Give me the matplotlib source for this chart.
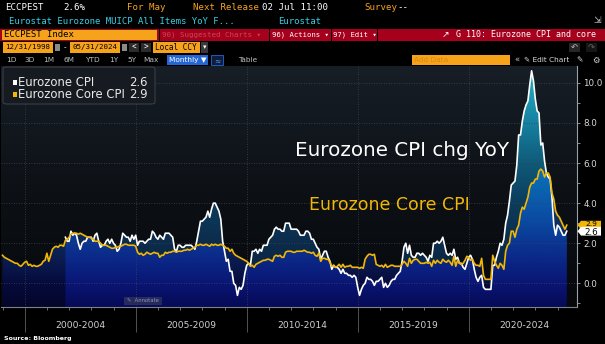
import numpy as np
import matplotlib
matplotlib.use("Agg")
import matplotlib.pyplot as plt
from matplotlib.path import Path
from matplotlib.colors import LinearSegmentedColormap
from matplotlib.patches import Rectangle, FancyBboxPatch, Polygon
import matplotlib.transforms as mtransforms

# ---------------- data ----------------
core_start = (1998, 12)   # monthly, end-of-month
core = [1.4,
        1.3, 1.25, 1.2, 1.15, 1.1, 1.05, 1.0, 1.0, 0.9, 0.85, 0.95, 1.05,
        1.1, 0.9, 0.95, 0.85, 0.9, 0.85, 0.85, 0.9, 0.95, 1.1, 1.15, 1.5,
        1.1, 1.4, 1.7, 1.8, 1.85, 1.8, 1.9, 1.9, 1.85, 2.15, 2.2, 2.3,
        2.45, 2.5, 2.5, 2.5, 2.45, 2.5, 2.45, 2.4, 2.35, 2.3, 2.3, 2.25,
        2.2, 2.1, 2.1, 2.1, 2.0, 1.9, 1.9, 1.9, 1.85, 1.8, 1.75, 1.75,
        1.8, 1.8, 1.85, 1.85, 1.9, 1.95, 1.95, 1.9, 1.9, 1.9, 1.9, 1.85,
        1.55, 1.45, 1.5, 1.4, 1.45, 1.55, 1.5, 1.45, 1.5, 1.55, 1.5, 1.5,
        1.3, 1.4, 1.4, 1.55, 1.5, 1.55, 1.55, 1.6, 1.6, 1.55, 1.6, 1.6,
        1.6, 1.65, 1.65, 1.7, 1.65, 1.7, 1.75, 1.8, 1.9, 1.9, 1.95, 1.9,
        1.9, 1.95, 1.9, 1.85, 1.95, 1.9, 1.95, 1.9, 1.9, 1.95, 1.9, 1.85,
        1.75, 1.75, 1.6, 1.7, 1.5, 1.4, 1.35, 1.3, 1.25, 1.2, 1.15, 1.1,
        1.0, 0.85, 0.9, 0.8, 0.95, 1.0, 1.05, 1.1, 1.15, 1.15, 1.2, 1.2,
        1.15, 1.1, 1.35, 1.4, 1.35, 1.4, 1.3, 1.3, 1.55, 1.6, 1.6, 1.6,
        1.55, 1.55, 1.6, 1.6, 1.6, 1.6, 1.65, 1.6, 1.55, 1.55, 1.5, 1.55,
        1.4, 1.35, 1.5, 1.1, 1.25, 1.25, 1.2, 1.2, 1.05, 0.85, 0.9, 0.8,
        0.85, 0.95, 0.8, 0.95, 0.8, 0.85, 0.85, 0.9, 0.8, 0.8, 0.8, 0.8,
        0.75, 0.8, 0.75, 1.2, 1.35, 1.45, 1.45, 1.4, 1.45, 0.95, 0.9, 0.85,
        0.9, 0.8, 0.95, 0.8, 0.85, 0.9, 0.9, 0.85, 0.85, 0.85, 0.85, 0.95,
        1.1, 1.0, 0.85, 1.25, 1.0, 1.15, 1.2, 1.2, 1.1, 1.0, 1.0, 1.0,
        1.05, 1.0, 1.05, 0.85, 1.15, 1.0, 1.15, 1.05, 1.0, 1.2, 1.1, 1.05,
        1.15, 1.05, 0.9, 1.35, 0.85, 1.15, 1.0, 0.95, 1.0, 1.15, 1.35, 1.3,
        1.15, 1.2, 1.0, 0.9, 0.9, 0.85, 1.25, 0.4, 0.2, 0.2, 0.2, 0.2,
        1.4, 1.1, 0.9, 0.75, 1.0, 0.9, 0.7, 1.6, 1.9, 2.0, 2.6, 2.6,
        2.3, 2.7, 2.9, 3.5, 3.8, 3.7, 4.0, 4.3, 4.8, 5.0, 5.0, 5.2,
        5.2, 5.6, 5.7, 5.6, 5.3, 5.5, 5.5, 5.3, 4.5, 4.2, 3.6, 3.4,
        3.3, 3.1, 2.9, 2.7, 2.9]

cpi_start = (2001, 10)
cpi = [2.3, 2.1, 2.1,
       2.6, 2.4, 2.5, 2.4, 2.0, 1.7, 2.0, 2.1, 2.1, 2.3, 2.3, 2.3,
       2.1, 2.4, 2.5, 2.1, 1.8, 1.9, 1.9, 2.1, 2.2, 2.0, 2.2, 2.0,
       1.9, 1.6, 1.7, 2.0, 2.5, 2.4, 2.3, 2.3, 2.1, 2.4, 2.2, 2.4,
       1.9, 2.1, 2.1, 2.1, 2.0, 2.1, 2.2, 2.2, 2.6, 2.5, 2.3, 2.2,
       2.4, 2.3, 2.2, 2.5, 2.5, 2.5, 2.4, 2.3, 1.7, 1.6, 1.9, 1.9,
       1.8, 1.8, 1.9, 1.9, 1.9, 1.9, 1.8, 1.7, 2.1, 2.6, 3.1, 3.1,
       3.2, 3.3, 3.6, 3.3, 3.7, 4.0, 4.0, 3.8, 3.6, 3.2, 2.1, 1.6,
       1.1, 1.2, 0.6, 0.6, 0.0, -0.1, -0.6, -0.2, -0.3, -0.1, 0.5, 0.9,
       1.0, 0.9, 1.6, 1.6, 1.7, 1.5, 1.7, 1.6, 1.9, 1.9, 1.9, 2.2,
       2.3, 2.4, 2.7, 2.8, 2.7, 2.7, 2.6, 2.6, 3.0, 3.0, 3.0, 2.7,
       2.7, 2.7, 2.7, 2.6, 2.4, 2.4, 2.4, 2.6, 2.6, 2.5, 2.2, 2.2,
       2.0, 1.8, 1.7, 1.2, 1.4, 1.6, 1.6, 1.3, 1.1, 0.7, 0.9, 0.8,
       0.8, 0.7, 0.5, 0.7, 0.5, 0.5, 0.4, 0.4, 0.3, 0.4, 0.3, -0.2,
       -0.6, -0.3, -0.1, 0.0, 0.3, 0.2, 0.2, 0.1, -0.1, 0.1, 0.1, 0.2,
       0.3, -0.2, 0.0, -0.2, -0.1, 0.1, 0.2, 0.2, 0.4, 0.5, 0.6, 1.1,
       1.8, 2.0, 1.5, 1.9, 1.4, 1.3, 1.3, 1.5, 1.5, 1.4, 1.5, 1.4,
       1.3, 1.1, 1.4, 1.3, 2.0, 2.0, 2.1, 2.0, 2.1, 2.3, 1.9, 1.5,
       1.4, 1.5, 1.4, 1.7, 1.2, 1.3, 1.0, 1.0, 0.8, 0.7, 1.0, 1.3,
       1.4, 1.2, 0.7, 0.3, 0.1, 0.3, 0.4, -0.2, -0.3, -0.3, -0.3, -0.3,
       0.9, 0.9, 1.3, 1.6, 2.0, 1.9, 2.2, 3.0, 3.4, 4.1, 4.9, 5.0,
       5.1, 5.9, 7.4, 7.4, 8.1, 8.6, 8.9, 9.1, 9.9, 10.6, 10.1, 9.2,
       8.6, 8.5, 6.9, 7.0, 6.1, 5.5, 5.3, 5.2, 4.3, 2.9, 2.4, 2.9,
       2.8, 2.6, 2.4, 2.4, 2.6]

series_names = ["Eurozone CPI", "Eurozone Core CPI"]
series_last = ["2.6", "2.9"]
y_ticks = [0, 2, 4, 6, 8, 10]
y_tick_labels = ["0.0", "2.0", "4.0", "6.0", "8.0", "10.0"]
y_minor = [-1, 1, 3, 5, 7, 9]
period_starts = [2000, 2005, 2010, 2015, 2020]
period_labels = ["2000-2004", "2005-2009", "2010-2014", "2015-2019", "2020-2024"]

# ---------------- setup ----------------
W, H = 605, 344
fig = plt.figure(figsize=(W / 100, H / 100), dpi=100, facecolor="black")

YEL = "#f2b705"
ORANGE = "#f7a21b"
RED = "#a6001c"
MONO = ["DejaVu Sans Mono", "DejaVu Sans"]
SANS = ["DejaVu Sans"]


def fx(x):
    return x / W


def fy(y):
    return 1 - y / H


def T(x, y, s, **kw):
    kw.setdefault("va", "center")
    return fig.text(fx(x), fy(y), s, **kw)


def R(x0, y0, x1, y1, **kw):
    r = Rectangle((fx(x0), fy(y1)), (x1 - x0) / W, (y1 - y0) / H,
                  transform=fig.transFigure, **kw)
    fig.add_artist(r)
    return r


core = np.array(core, dtype=float)
cpi = np.array(cpi, dtype=float)
t_core = core_start[0] + core_start[1] / 12 + np.arange(len(core)) / 12
t_cpi = cpi_start[0] + cpi_start[1] / 12 + np.arange(len(cpi)) / 12
i0 = int(round((t_cpi[0] - t_core[0]) * 12))
core_c = core[i0:i0 + len(cpi)]

# axes geometry (pixels): x 1..577, y 66..307
AX_L, AX_R, AX_T, AX_B = 1, 577, 66, 307
ax = fig.add_axes([fx(AX_L), fy(AX_B), (AX_R - AX_L) / W, (AX_B - AX_T) / H])
PX_PER_YEAR = 22.2
XMIN = 2000 - (24.7 - AX_L) / PX_PER_YEAR
XMAX = XMIN + (AX_R - AX_L) / PX_PER_YEAR
YMIN, YMAX = -1.18, 10.84
ax.set_facecolor("black")


def vcmap(stops):
    pos = [(v - YMIN) / (YMAX - YMIN) for v, _ in stops]
    return LinearSegmentedColormap.from_list("g", list(zip(pos, [c for _, c in stops])))


grad = np.linspace(0, 1, 512).reshape(-1, 1)
ext = [XMIN, XMAX, YMIN, YMAX]

bg_cmap = vcmap([(YMIN, "#06080b"), (4, "#0c1015"), (YMAX, "#171e26")])
ax.imshow(grad, extent=ext, origin="lower", aspect="auto", cmap=bg_cmap, zorder=0)

core_cmap = vcmap([(YMIN, "#03052a"), (0, "#060b3c"), (1, "#0a1a4e"), (2, "#0d2656"),
                   (3, "#10305e"), (6, "#134070"), (YMAX, "#1a5080")])
both_cmap = vcmap([(YMIN, "#070a55"), (0, "#0a1675"), (1, "#0b2585"), (2, "#0b3592"),
                   (3, "#0a48a0"), (4, "#0a58aa"), (5, "#0a68b2"), (6, "#0b75b8"), (YMAX, "#1090c0")])
teal_cmap = vcmap([(YMIN, "#081a40"), (0, "#0a2040"), (2, "#0c2c4c"), (4, "#0c3c5c"),
                   (6, "#0f5a78"), (8, "#1680a0"), (10, "#22a6bc"), (YMAX, "#2cb8c8")])


def region_paths(*colls):
    paths = []
    for c in colls:
        paths.extend([p for p in c.get_paths() if len(p.vertices) > 2])
        c.remove()
    return paths


def grad_fill(paths, cmap, z):
    if not paths:
        return
    cp = Path.make_compound_path(*paths)
    im = ax.imshow(grad, extent=ext, origin="lower", aspect="auto", cmap=cmap, zorder=z)
    im.set_clip_path(cp, ax.transData)


# 1) area under core, whole history (core only)
grad_fill(region_paths(ax.fill_between(t_core, YMIN, core, lw=0)), core_cmap, 1)
# 2) area under core where both series exist
grad_fill(region_paths(ax.fill_between(t_cpi, YMIN, core_c, lw=0)), both_cmap, 2)
# 3) where core is above cpi, the band between them is core-only
grad_fill(region_paths(ax.fill_between(t_cpi, cpi, core_c, where=core_c > cpi,
                                       interpolate=True, lw=0)), core_cmap, 3)
# 4) where cpi is above core, band is cpi-only (teal)
grad_fill(region_paths(ax.fill_between(t_cpi, core_c, cpi, where=cpi > core_c,
                                       interpolate=True, lw=0)), teal_cmap, 3)

# grid
for v in y_ticks:
    ax.axhline(v, color="#3e454d", lw=0.6, ls=(0, (1, 2)), zorder=4)
for x in period_starts:
    ax.axvline(x, color="#3e454d", lw=0.6, ls=(0, (1, 2)), zorder=4)

ax.plot(t_cpi, cpi, color="white", lw=1.2, zorder=5, solid_joinstyle="round")
ax.plot(t_core, core, color=YEL, lw=1.2, zorder=6, solid_joinstyle="round")

ax.set_xlim(XMIN, XMAX)
ax.set_ylim(YMIN, YMAX)

for s in ["left", "top"]:
    ax.spines[s].set_visible(False)
ax.spines["right"].set_color("#9aa0a6")
ax.spines["right"].set_linewidth(0.8)
ax.spines["bottom"].set_color("#7c8288")
ax.spines["bottom"].set_linewidth(0.8)

ax.yaxis.tick_right()
ax.set_yticks(y_ticks, y_tick_labels)
ax.set_yticks(y_minor, minor=True)
ax.tick_params(axis="y", which="major", length=2.5, width=0.6, color="#9aa0a6",
               labelcolor="#d8d8d8", labelsize=6.3, pad=2)
ax.tick_params(axis="y", which="minor", length=1.8, width=0.6, color="#9aa0a6")
ax.set_xticks(period_starts, [""] * len(period_starts))
ax.set_xticks(list(range(1999, 2025)), minor=True)
ax.tick_params(axis="x", which="major", length=18, width=0.6, color="#5a6066")
ax.tick_params(axis="x", which="minor", length=2.2, width=0.6, color="#7c8288")

bt = mtransforms.blended_transform_factory(ax.transData, fig.transFigure)
for start, lab in zip(period_starts, period_labels):
    ax.text(start + 2.5, fy(326), lab, transform=bt, ha="center", va="center",
            color="#d0d0d0", fontsize=6.6, clip_on=False)

# plot annotations (pixel placed)
T(402, 151, "Eurozone CPI chg YoY", ha="center", color="white", fontsize=14.3, zorder=8)
T(389, 205, "Eurozone Core CPI", ha="center", color=YEL, fontsize=12.5, zorder=8)


# last value tags
def tag(value, txt, face, dy, size):
    yd = ax.transData.transform((t_cpi[-1], value))[1]
    yp = H - yd
    pts = [(577.5, yp), (581, yp - 4.4), (601, yp - 4.4), (601, yp + 4.4), (581, yp + 4.4)]
    fig.add_artist(Polygon([(fx(a), fy(b)) for a, b in pts], closed=True, transform=fig.transFigure,
                           facecolor=face, edgecolor="none", zorder=9))
    T(591, yp + dy, txt, ha="center", color="black", fontsize=size, zorder=10)


tag(core[-1], series_last[1], YEL, -1.6, 5.4)
tag(cpi[-1], series_last[0], "white", 0.8, 6.3)

# legend box
fig.add_artist(FancyBboxPatch((fx(3), fy(104)), (152) / W, (37) / H,
                              boxstyle="round,pad=0,rounding_size=0.006",
                              transform=fig.transFigure, facecolor="#161b21",
                              edgecolor="#444a51", lw=0.6, zorder=7))
for yy, name, val, col in [(82.5, series_names[0], series_last[0], "white"),
                            (94.5, series_names[1], series_last[1], YEL)]:
    R(12.5, yy - 2.2, 16.7, yy + 2.2, facecolor=col, edgecolor="none", zorder=8)
    T(18.5, yy, name, color="#e8e8e8", fontsize=8.4, zorder=8)
    T(148, yy, val, ha="right", color="#e8e8e8", fontsize=8.4, zorder=8)

# annotate button
R(124, 296.5, 161, 304, facecolor="#252a58", edgecolor="#353a70", lw=0.4, zorder=8)
T(142.5, 300.3, "\u270e  Annotate", ha="center", color="#8d93c6", fontsize=3.8, zorder=9)

# ---------------- header ----------------
for x, s, c in [(5, "ECCPEST", "white"), (63, "2.6%", "white"), (127, "For May", ORANGE),
                (193, "Next Release", ORANGE), (262, "02 Jul 11:00", "white"),
                (364, "Survey", ORANGE), (397, "--", "white")]:
    T(x, 7.5, s, color=c, fontsize=6.6, family=MONO)
T(9, 21.5, "Eurostat Eurozone MUICP All Items YoY F...", color="#35cfe3", fontsize=6.5, family=MONO)
T(278, 21.5, "Eurostat", color="#35cfe3", fontsize=6.5, family=MONO)
T(597, 20.5, "\u21f2", ha="center", color="#c8c8c8", fontsize=6.5, family=SANS)

# red bar
R(0, 29, W, 40.5, facecolor=RED, edgecolor="none")
R(2, 29.5, 157, 40, facecolor=ORANGE, edgecolor="none")
T(4, 34.8, "ECCPEST Index", color="black", fontsize=6.5, family=MONO)
T(162, 34.8, "90) Suggested Charts \u25be", color="#c8485a", fontsize=5.4, family=MONO)
T(272, 34.8, "96) Actions \u25be", color="white", fontsize=5.2, family=MONO)
T(333, 34.8, "97) Edit \u25be", color="white", fontsize=5.2, family=MONO)
T(596, 34.8, "G 110: Eurozone CPI and core", ha="right", color="white", fontsize=6.0,
  family=MONO)
T(445, 34.8, "\u2197", ha="center", color="white", fontsize=6.5, family=SANS)
for xs in [159, 269, 331, 377]:
    R(xs, 29, xs + 1, 40.5, facecolor="black", edgecolor="none")

# date row
R(3, 42.5, 53, 52.5, facecolor=ORANGE, edgecolor="none")
T(28, 47.5, "12/31/1998", ha="center", color="black", fontsize=5.4, family=MONO)
R(55, 44, 59.5, 51, facecolor="#8a8a8a", edgecolor="none")
T(64.5, 47.5, "-", ha="center", color="#cccccc", fontsize=5.5, family=MONO)
R(70, 42.5, 120, 52.5, facecolor=ORANGE, edgecolor="none")
T(95, 47.5, "05/31/2024", ha="center", color="black", fontsize=5.4, family=MONO)
R(122, 44, 126.5, 51, facecolor="#8a8a8a", edgecolor="none")
R(129, 43, 139, 52, facecolor="#2b2b2b", edgecolor="none")
T(134, 47.5, "<", ha="center", color="white", fontsize=5.5, family=MONO)
R(141, 43, 151, 52, facecolor="#2b2b2b", edgecolor="none")
T(146, 47.5, ">", ha="center", color="white", fontsize=5.5, family=MONO)
R(153, 42.5, 200, 52.5, facecolor=ORANGE, edgecolor="none")
T(155, 47.5, "Local CCY", color="black", fontsize=5.6, family=MONO)
R(201, 42.5, 208, 52.5, facecolor="#3a3a3a", edgecolor="none")
T(204.5, 47.5, "\u25be", ha="center", color="white", fontsize=5, family=SANS)
R(569, 43, 580, 52, facecolor="#262626", edgecolor="none")
T(574.5, 47.5, "\u21b6", ha="center", color="#bbbbbb", fontsize=6, family=SANS)
R(586, 43, 597, 52, facecolor="#161616", edgecolor="none")
T(591.5, 47.5, "\u21b7", ha="center", color="#666666", fontsize=6, family=SANS)

# toolbar row
for x, s in [(11.6, "1D"), (30, "3D"), (49, "1M"), (69.5, "6M"), (92.7, "YTD"), (114, "1Y"),
             (132, "5Y"), (151, "Max")]:
    T(x, 60.3, s, ha="center", color="#bdbdbd", fontsize=5.3)
R(167, 55.5, 208, 65, facecolor="#2467d4", edgecolor="none")
T(187.5, 60.3, "Monthly \u25bc", ha="center", color="white", fontsize=5.3)
R(211, 55.5, 223, 65, facecolor="#0d1d3d", edgecolor="#2467d4", lw=0.6)
T(217, 60.3, "\u2248", ha="center", color="#5a8fe8", fontsize=5.5)
T(247.5, 60.3, "Table", ha="center", color="#bdbdbd", fontsize=5.3)
R(412, 55.5, 510, 65, facecolor=ORANGE, edgecolor="none")
T(414, 60.3, "Add Data", color="#d98a10", fontsize=5.3)
T(517, 60.3, "\u00ab", ha="center", color="#bdbdbd", fontsize=6)
T(524, 60.3, "\u270e Edit Chart", color="#d8d8d8", fontsize=5.3)
T(580, 60.3, "\u270e", ha="center", color="#d8d8d8", fontsize=5.5)
T(596, 60.3, "\u2699", ha="center", color="#d8d8d8", fontsize=6)

# source
T(4, 338.5, "Source: Bloomberg", color="white", fontsize=4.5, fontweight="bold")

fig.savefig("out.png", dpi=100, facecolor="black")
